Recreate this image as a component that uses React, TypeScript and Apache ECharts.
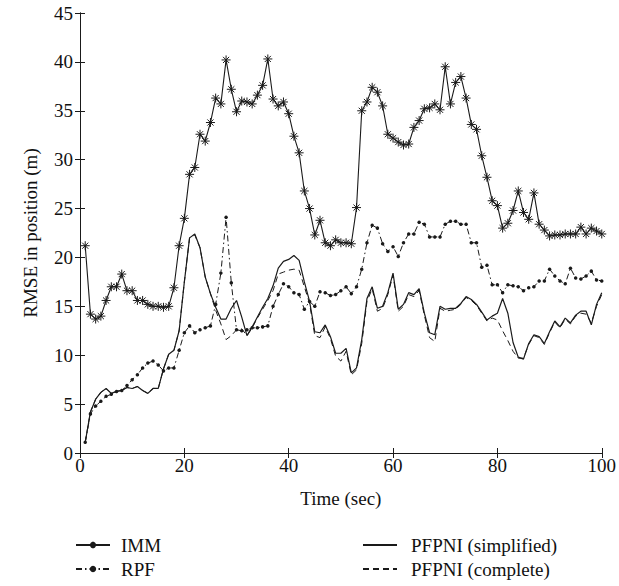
import React, { useEffect, useRef } from "react";
import * as echarts from "echarts";

const time = [
  1, 2, 3, 4, 5, 6, 7, 8, 9, 10, 11, 12, 13, 14, 15, 16, 17, 18, 19, 20,
  21, 22, 23, 24, 25, 26, 27, 28, 29, 30, 31, 32, 33, 34, 35, 36, 37, 38, 39, 40,
  41, 42, 43, 44, 45, 46, 47, 48, 49, 50, 51, 52, 53, 54, 55, 56, 57, 58, 59, 60,
  61, 62, 63, 64, 65, 66, 67, 68, 69, 70, 71, 72, 73, 74, 75, 76, 77, 78, 79, 80,
  81, 82, 83, 84, 85, 86, 87, 88, 89, 90, 91, 92, 93, 94, 95, 96, 97, 98, 99, 100,
];

const imm = [
  21.2, 14.2, 13.7, 14.0, 15.6, 17.0, 17.0, 18.3, 16.6, 16.6,
  15.6, 15.6, 15.2, 15.0, 15.0, 14.9, 15.0, 16.9, 21.2, 24.0,
  28.5, 29.2, 32.6, 31.9, 33.8, 36.3, 35.7, 40.2, 37.2, 34.9,
  36.0, 35.9, 35.7, 36.6, 37.6, 40.3, 36.2, 35.5, 35.9, 34.7,
  32.4, 30.7, 26.8, 25.0, 22.3, 23.8, 21.5, 21.2, 21.8, 21.5,
  21.5, 21.4, 25.1, 35.0, 35.9, 37.4, 36.9, 35.5, 32.6, 32.2,
  31.8, 31.5, 31.6, 33.3, 34.0, 35.2, 35.3, 35.7, 35.1, 39.5,
  35.7, 37.9, 38.5, 36.3, 33.6, 33.1, 30.4, 28.2, 25.8, 25.3,
  23.0, 23.5, 24.8, 26.8, 24.6, 23.9, 26.6, 23.4, 22.8, 22.2,
  22.3, 22.3, 22.4, 22.4, 22.4, 23.1, 22.4, 23.0, 22.7, 22.4,
];

const rpf = [
  1.1, 4.0, 4.8, 5.3, 5.8, 6.0, 6.3, 6.4, 6.9, 7.5,
  8.0, 8.7, 9.2, 9.4, 9.0, 8.4, 8.7, 8.7, 10.5, 12.3,
  13.0, 12.3, 12.6, 12.8, 13.0, 15.2, 18.4, 24.1, 17.4, 12.6,
  12.5, 12.6, 12.8, 12.8, 12.9, 13.0, 15.0, 16.2, 17.3, 17.0,
  16.4, 16.2, 14.7, 15.5, 15.0, 16.5, 16.4, 16.1, 16.2, 16.6,
  17.0, 16.3, 17.0, 18.8, 21.5, 23.3, 23.0, 21.4, 20.6, 21.1,
  20.1, 21.5, 22.4, 22.4, 23.6, 23.4, 22.1, 22.1, 22.1, 23.4,
  23.7, 23.7, 23.4, 23.4, 21.5, 21.5, 19.0, 19.2, 17.2, 17.2,
  16.4, 17.2, 17.1, 17.0, 16.6, 16.9, 17.0, 17.6, 17.6, 18.8,
  18.1, 17.6, 17.3, 18.9, 17.9, 17.8, 18.1, 18.6, 17.7, 17.6,
];

const pfpniSimplified = [
  1.1, 4.2, 5.5, 6.2, 6.6, 6.1, 6.3, 6.4, 6.7, 6.6,
  6.8, 6.4, 6.1, 6.6, 6.6, 8.6, 10.1, 10.5, 12.5, 17.5,
  22.0, 22.4, 21.0, 18.0, 16.3, 14.9, 13.7, 13.7, 14.8, 15.6,
  13.9, 12.0, 12.9, 13.9, 14.9, 15.8, 17.1, 18.9, 19.6, 19.8,
  20.2, 19.7, 17.5, 15.5, 12.4, 12.3, 13.1, 11.9, 10.2, 10.2,
  10.7, 8.2, 8.7, 11.6, 15.8, 17.0, 14.8, 15.0, 16.4, 18.4,
  14.7, 15.2, 16.4, 16.2, 16.8, 14.3, 12.3, 12.1, 15.0, 14.7,
  14.8, 14.8, 15.3, 16.0, 15.7, 15.2, 14.4, 13.6, 14.0, 14.3,
  15.8, 14.3, 11.3, 9.8, 9.6, 11.2, 12.1, 11.9, 11.2, 12.4,
  13.5, 12.9, 13.8, 13.3, 14.1, 14.5, 14.5, 13.1, 15.2, 16.4,
];

const pfpniComplete = [
  1.1, 4.2, 5.5, 6.2, 6.6, 6.1, 6.3, 6.4, 6.7, 6.6,
  6.8, 6.4, 6.1, 6.6, 6.6, 8.6, 10.1, 10.5, 12.5, 17.5,
  22.0, 22.3, 21.0, 18.0, 16.3, 14.6, 13.2, 11.6, 12.0, 12.6,
  12.7, 12.0, 12.8, 13.8, 14.7, 15.6, 16.6, 18.3, 18.5, 18.7,
  18.8, 18.7, 17.0, 15.3, 12.0, 11.8, 12.9, 11.7, 9.9, 9.4,
  10.4, 8.0, 8.5, 11.2, 15.5, 16.8, 14.5, 14.8, 16.2, 18.2,
  14.5, 15.0, 16.2, 16.0, 16.6, 14.1, 11.8, 11.4, 14.8, 14.5,
  14.6, 14.7, 15.2, 15.9, 15.6, 15.1, 14.3, 13.5, 13.8, 13.6,
  12.5, 11.5, 10.4, 9.7, 9.7, 11.1, 12.0, 11.8, 11.1, 12.3,
  13.4, 12.8, 13.7, 13.2, 14.0, 14.3, 14.2, 13.3, 15.0, 16.2,
];

const xTicks = [0, 20, 40, 60, 80, 100];
const yTicks = [0, 5, 10, 15, 20, 25, 30, 35, 40, 45];

const names = ["IMM", "RPF", "PFPNI (simplified)", "PFPNI (complete)"];

const FONT = "Liberation Serif";
const INK = "#1a1a1a";
const ASTERISK =
  "path://M5,0L5,10M0,5L10,5M1.6,1.6L8.4,8.4M1.6,8.4L8.4,1.6";

const pairs = (vals: number[]) => time.map((t, i) => [t, vals[i]]);

export default function App() {
  const ref = useRef<HTMLDivElement>(null);

  useEffect(() => {
    if (!ref.current) return;
    const chart = echarts.init(ref.current, undefined, { renderer: "svg" });

    const baseAxisLine = { show: true, lineStyle: { color: INK, width: 1 } };
    const tickStyle = { show: true, inside: true, length: 5, lineStyle: { color: INK, width: 1 } };
    const labelStyle = { fontFamily: FONT, fontSize: 19, color: "#111" };

    const legendCommon = {
      orient: "vertical",
      top: 535,
      padding: 0,
      itemWidth: 34,
      itemHeight: 8,
      itemGap: 4,
      selectedMode: false,
    };

    chart.setOption({
      animation: false,
      backgroundColor: "#fff",
      grid: { left: 80, right: 15, top: 13, bottom: 133, containLabel: false },
      xAxis: [
        {
          type: "value",
          min: xTicks[0],
          max: xTicks[xTicks.length - 1],
          interval: 20,
          position: "bottom",
          name: "Time (sec)",
          nameLocation: "middle",
          nameGap: 36,
          nameTextStyle: { ...labelStyle },
          axisLine: baseAxisLine,
          axisTick: tickStyle,
          axisLabel: { ...labelStyle, margin: 3 },
          splitLine: { show: false },
        },
        {
          type: "value",
          min: xTicks[0],
          max: xTicks[xTicks.length - 1],
          interval: 20,
          position: "top",
          axisLine: baseAxisLine,
          axisTick: tickStyle,
          axisLabel: { show: false },
          splitLine: { show: false },
        },
      ],
      yAxis: [
        {
          type: "value",
          min: yTicks[0],
          max: yTicks[yTicks.length - 1],
          interval: 5,
          position: "left",
          name: "RMSE in position (m)",
          nameLocation: "middle",
          nameGap: 40,
          nameRotate: 90,
          nameTextStyle: { ...labelStyle },
          axisLine: baseAxisLine,
          axisTick: tickStyle,
          axisLabel: { ...labelStyle, margin: 7 },
          splitLine: { show: false },
        },
        {
          type: "value",
          min: yTicks[0],
          max: yTicks[yTicks.length - 1],
          interval: 5,
          position: "right",
          axisLine: baseAxisLine,
          axisTick: tickStyle,
          axisLabel: { show: false },
          splitLine: { show: false },
        },
      ],
      legend: [
        {
          ...legendCommon,
          left: 75,
          data: [names[0], names[1]],
          textStyle: { ...labelStyle, lineHeight: 20, padding: [0, 0, 0, 6] },
        },
        {
          ...legendCommon,
          left: 362,
          data: [
            { name: names[2], itemStyle: { opacity: 0 } },
            { name: names[3], itemStyle: { opacity: 0 } },
          ],
          textStyle: { ...labelStyle, lineHeight: 20, padding: [0, 0, 0, 9] },
        },
      ],
      series: [
        {
          name: names[0],
          type: "line",
          data: pairs(imm),
          symbol: ASTERISK,
          symbolSize: 9,
          showAllSymbol: true,
          itemStyle: { color: INK, borderColor: INK, borderWidth: 1 },
          lineStyle: { color: INK, width: 1.1 },
          z: 4,
        },
        {
          name: names[1],
          type: "line",
          data: pairs(rpf),
          symbol: "circle",
          symbolSize: 3.5,
          showAllSymbol: true,
          itemStyle: { color: INK },
          lineStyle: { color: INK, width: 1, type: [6, 3, 1.5, 3] },
          z: 3,
        },
        {
          name: names[2],
          type: "line",
          data: pairs(pfpniSimplified),
          symbol: "none",
          itemStyle: { color: INK },
          lineStyle: { color: INK, width: 1.2 },
          z: 2,
        },
        {
          name: names[3],
          type: "line",
          data: pairs(pfpniComplete),
          symbol: "none",
          itemStyle: { color: INK },
          lineStyle: { color: INK, width: 1, type: [6, 4] },
          z: 1,
        },
      ],
    });

    return () => chart.dispose();
  }, []);

  return (
    <div
      ref={ref}
      style={{ position: "fixed", left: 0, top: 0, width: 619, height: 586, background: "#fff" }}
    />
  );
}
